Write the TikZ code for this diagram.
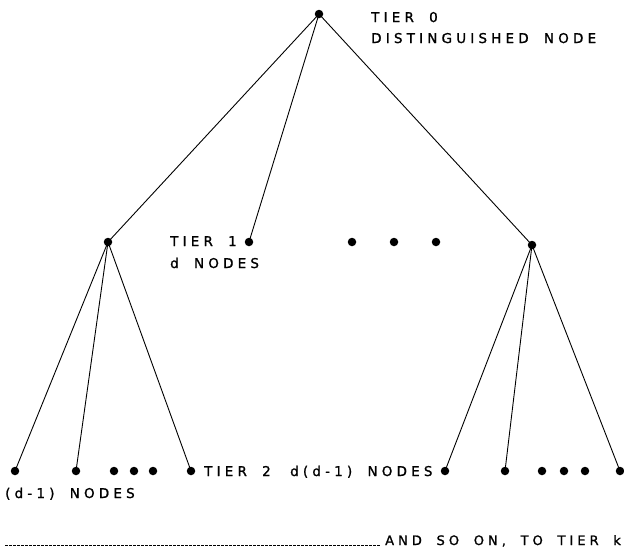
\documentclass[tikz,border=0pt]{standalone}
\usepackage{fontspec}
\setmainfont{DejaVu Sans}[LetterSpace=31,WordSpace=1.8,FakeBold=1.2]
\begin{document}
\begin{tikzpicture}[x=1pt,y=-1pt,
  dot/.style={circle,fill=black,inner sep=0pt,minimum size=8.5pt},
  edge/.style={line width=0.9pt},
  lab/.style={anchor=base west,inner sep=0pt,font=\fontsize{13.5}{16}\selectfont}]
\useasboundingbox (0,0) rectangle (624,547);
% tier 0
\node[dot] (r) at (319,14) {};
% tier 1
\node[dot] (a) at (108,242) {};
\node[dot] (b) at (249,242) {};
\node[dot] (d1) at (352,242) {};
\node[dot] (d2) at (394,242) {};
\node[dot] (d3) at (436,242) {};
\node[dot] (c) at (532,245) {};
% tier 2 left
\node[dot] (a1) at (15,471) {};
\node[dot] (a2) at (76,471) {};
\node[dot] (e1) at (114,471) {};
\node[dot] (e2) at (134,471) {};
\node[dot] (e3) at (153,471) {};
\node[dot] (a3) at (191,471) {};
% tier 2 right
\node[dot] (c1) at (445,471) {};
\node[dot] (c2) at (505,471) {};
\node[dot] (f1) at (542,471) {};
\node[dot] (f2) at (564,471) {};
\node[dot] (f3) at (585,471) {};
\node[dot] (c3) at (620,471) {};
% edges
\draw[edge] (r.center) -- (a.center);
\draw[edge] (r.center) -- (b.center);
\draw[edge] (r.center) -- (c.center);
\draw[edge] (a.center) -- (a1.center);
\draw[edge] (a.center) -- (a2.center);
\draw[edge] (a.center) -- (a3.center);
\draw[edge] (c.center) -- (c1.center);
\draw[edge] (c.center) -- (c2.center);
\draw[edge] (c.center) -- (c3.center);
% labels
\node[lab] (t0) at (371,22) {TIER 0};
\node[lab] (t0b) at (371,43) {DISTINGUISHED NODE};
\node[lab] (t1) at (170,246) {TIER 1};
\node[lab] (t1b) at (170,268) {d NODES};
\node[lab] (t2) at (204,476) {TIER 2};
\node[lab] (t2b) at (290,476) {d(d-1) NODES};
\node[lab] (t2c) at (5,498) {(d-1) NODES};
\coordinate (ls) at (5,545);
\coordinate (le) at (381,545);
\draw[line width=0.6pt,dash pattern=on 3pt off 1pt] (ls) -- (le);
\node[lab,font=\fontsize{13}{16}\selectfont] (so) at (385,545) {AND SO ON, TO TIER k};
\end{tikzpicture}
\end{document}
